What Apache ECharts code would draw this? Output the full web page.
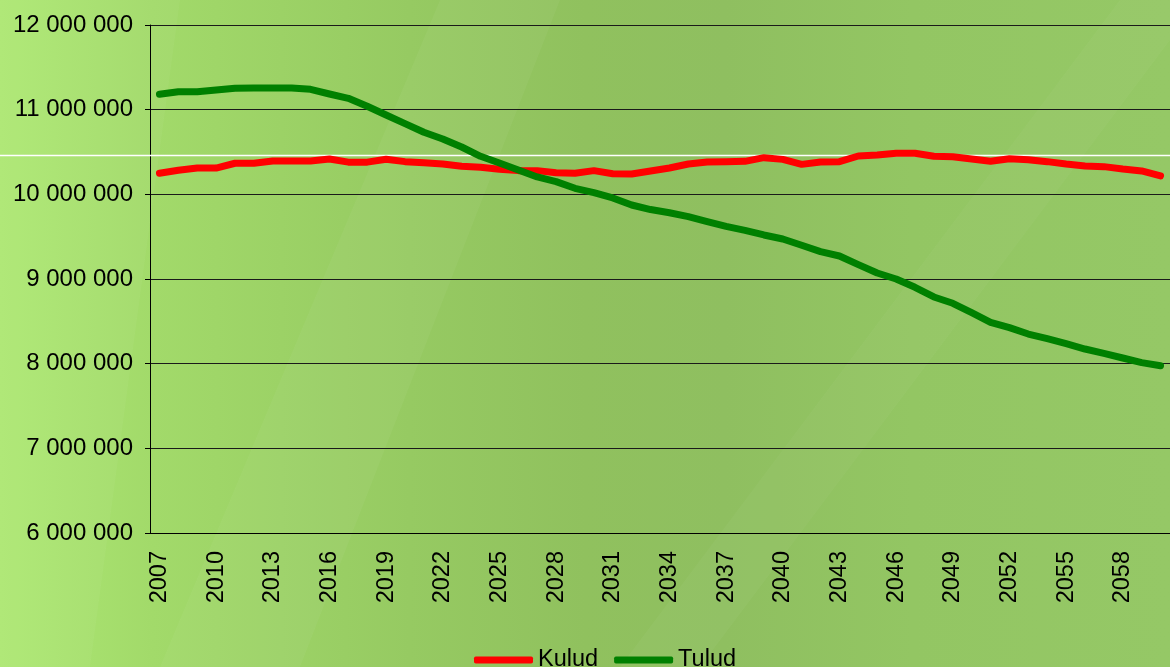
<!DOCTYPE html>
<html>
<head>
<meta charset="utf-8">
<title>Kulud ja tulud</title>
<script src="https://cdn.jsdelivr.net/npm/echarts@6/dist/echarts.min.js"></script>
<style>
  html, body { margin: 0; padding: 0; }
  #chart { width: 1170px; height: 667px; }
</style>
</head>
<body>
<div id="chart"></div>
<script>
// aastad 2007..2060
const years = [
  2007, 2008, 2009, 2010, 2011, 2012, 2013, 2014, 2015, 2016,
  2017, 2018, 2019, 2020, 2021, 2022, 2023, 2024, 2025, 2026,
  2027, 2028, 2029, 2030, 2031, 2032, 2033, 2034, 2035, 2036,
  2037, 2038, 2039, 2040, 2041, 2042, 2043, 2044, 2045, 2046,
  2047, 2048, 2049, 2050, 2051, 2052, 2053, 2054, 2055, 2056,
  2057, 2058, 2059, 2060
];

// Kulud (punane)
const kulud = [
  10249000, 10284000, 10312000, 10310000, 10367000, 10367000, 10394000, 10394000, 10394000, 10417000,
  10380000, 10380000, 10415000, 10386000, 10374000, 10358000, 10331000, 10319000, 10296000, 10280000,
  10280000, 10256000, 10248000, 10280000, 10244000, 10240000, 10276000, 10311000, 10358000, 10382000,
  10386000, 10390000, 10433000, 10413000, 10354000, 10382000, 10386000, 10453000, 10465000, 10485000,
  10485000, 10449000, 10445000, 10417000, 10390000, 10421000, 10409000, 10386000, 10358000, 10335000,
  10327000, 10299000, 10276000, 10217000
];

// Tulud (roheline)
const tulud = [
  11182000, 11212000, 11212000, 11232000, 11252000, 11256000, 11256000, 11256000, 11240000, 11185000,
  11134000, 11040000, 10937000, 10835000, 10733000, 10654000, 10559000, 10449000, 10370000, 10287000,
  10205000, 10150000, 10071000, 10020000, 9957000, 9874000, 9820000, 9783000, 9736000, 9677000,
  9622000, 9575000, 9520000, 9473000, 9398000, 9323000, 9272000, 9169000, 9071000, 9000000,
  8902000, 8788000, 8713000, 8602000, 8488000, 8425000, 8350000, 8295000, 8236000, 8173000,
  8122000, 8067000, 8012000, 7976000
];

const yMin = 6000000;
const yMax = 12000000;
const yStep = 1000000;

const font = '"Liberation Sans", Arial, sans-serif';

// 12 000 000 -> tühikutega
function fmt(v) {
  return String(v).replace(/\B(?=(\d{3})+(?!\d))/g, ' ');
}

const chart = echarts.init(document.getElementById('chart'), null, { renderer: 'canvas' });

chart.setOption({
  animation: false,
  backgroundColor: {
    type: 'linear', x: 0, y: 0, x2: 1, y2: 0,
    colorStops: [
      { offset: 0, color: '#ade873' },
      { offset: 0.13, color: '#a2da6a' },
      { offset: 0.35, color: '#96ca62' },
      { offset: 0.5, color: '#90c15e' },
      { offset: 0.62, color: '#8fbf60' },
      { offset: 0.78, color: '#93c663' },
      { offset: 1, color: '#95c866' }
    ]
  },
  graphic: [
    // heledad diagonaalsed ribad taustal
    {
      type: 'polygon', silent: true, z: -10,
      shape: { points: [[160, 667], [300, 667], [560, 0], [440, 0]] },
      style: { fill: 'rgba(255,255,255,0.04)' }
    },
    {
      type: 'polygon', silent: true, z: -10,
      shape: { points: [[620, 667], [700, 667], [1170, 40], [1170, 0], [1120, 0]] },
      style: { fill: 'rgba(255,255,255,0.03)' }
    },
    {
      type: 'polygon', silent: true, z: -10,
      shape: { points: [[0, 667], [90, 667], [180, 0], [0, 0]] },
      style: { fill: 'rgba(255,255,255,0.04)' }
    },
    // valge horisontaalne joon
    {
      type: 'line', silent: true, z: 1,
      shape: { x1: 0, y1: 155.5, x2: 1170, y2: 155.5 },
      style: { stroke: '#ffffff', lineWidth: 1.5 }
    }
  ],
  grid: {
    left: 150,
    top: 25,
    width: 1023,
    height: 508,
    containLabel: false
  },
  legend: {
    data: ['Kulud', 'Tulud'],
    left: 469,
    top: 643,
    icon: 'roundRect',
    itemWidth: 59,
    itemHeight: 7,
    itemGap: 16,
    textStyle: { fontFamily: font, fontSize: 23.5, color: '#000' }
  },
  xAxis: {
    type: 'category',
    data: years,
    boundaryGap: true,
    axisLine: { lineStyle: { color: '#000', width: 1 } },
    axisTick: {
      interval: 0,
      length: 6,
      lineStyle: { color: '#333' }
    },
    axisLabel: {
      interval: 2,
      rotate: 90,
      margin: 18,
      fontFamily: font,
      fontSize: 23.5,
      color: '#000'
    },
    splitLine: { show: false }
  },
  yAxis: {
    type: 'value',
    min: yMin,
    max: yMax,
    interval: yStep,
    axisLine: { show: true, lineStyle: { color: '#000', width: 1 } },
    axisTick: { show: true, length: 5, lineStyle: { color: '#000' } },
    axisLabel: {
      margin: 17,
      fontFamily: font,
      fontSize: 24,
      color: '#000',
      formatter: fmt
    },
    splitLine: { show: true, lineStyle: { color: '#1a1a1a', width: 1 } }
  },
  series: [
    {
      name: 'Kulud',
      type: 'line',
      data: kulud,
      symbol: 'none',
      color: '#ff0000',
      lineStyle: { color: '#ff0000', width: 7, cap: 'round', join: 'round' },
      z: 3
    },
    {
      name: 'Tulud',
      type: 'line',
      data: tulud,
      symbol: 'none',
      color: '#008000',
      lineStyle: { color: '#008000', width: 7, cap: 'round', join: 'round' },
      z: 4
    }
  ]
});
</script>
</body>
</html>
